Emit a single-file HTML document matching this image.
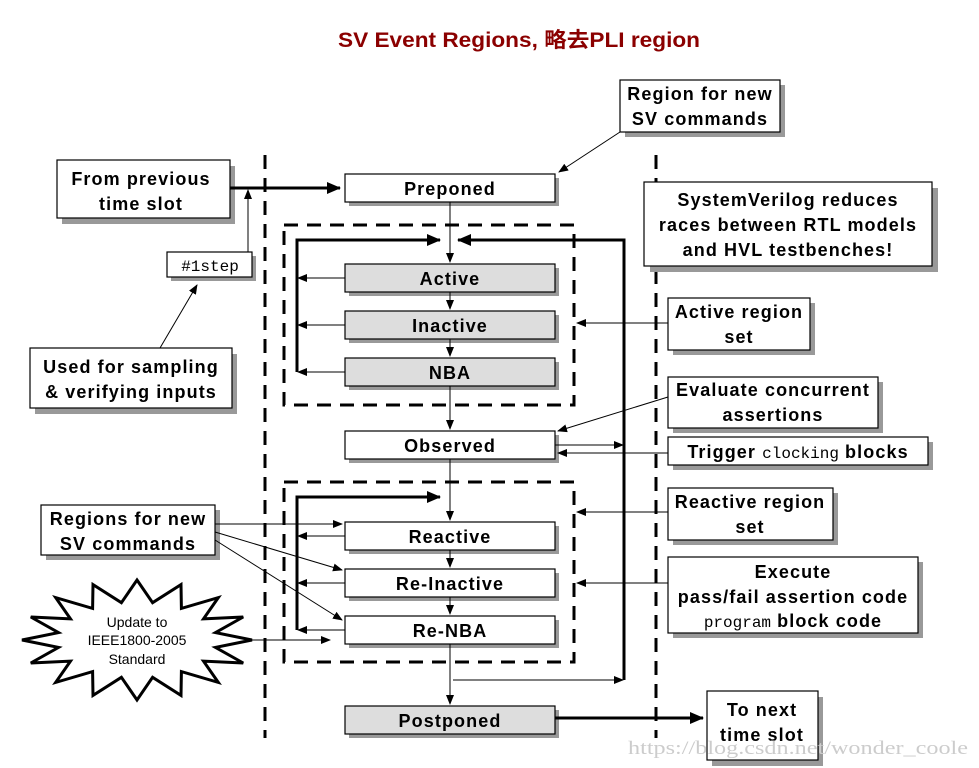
<!DOCTYPE html>
<html><head><meta charset="utf-8"><style>
body{margin:0;background:#fff}
svg{display:block}
text{font-family:"Liberation Sans","Noto Sans CJK SC",sans-serif;font-weight:bold;font-size:18px;letter-spacing:1.1px;fill:#000}
.m{font-family:"Liberation Mono",monospace;font-weight:normal;letter-spacing:0}
</style></head><body>
<svg width="979" height="768" viewBox="0 0 979 768" xmlns="http://www.w3.org/2000/svg">
<defs>
<marker id="a" markerWidth="10" markerHeight="8" refX="9" refY="4" orient="auto" markerUnits="userSpaceOnUse"><path d="M0,0 L10,4 L0,8 z" fill="#000"/></marker>
<marker id="b" markerWidth="14" markerHeight="12" refX="13" refY="6" orient="auto" markerUnits="userSpaceOnUse"><path d="M0,0 L14,6 L0,12 z" fill="#000"/></marker>
</defs>
<text x="338" y="47" textLength="362" lengthAdjust="spacingAndGlyphs" style="fill:#8b0000;font-size:21px;letter-spacing:0">SV Event Regions, 略去PLI region</text>

<g stroke="#000" stroke-width="3" stroke-dasharray="14,9" fill="none">
<line x1="265" y1="155" x2="265" y2="738"/>
<line x1="656" y1="155" x2="656" y2="738"/>
<rect x="284" y="225" width="290" height="180"/>
<rect x="284" y="482" width="290" height="180"/>
</g>

<g stroke="#000" stroke-width="1.2">
<g fill="#999" stroke="none">
<rect x="349" y="178" width="210" height="28"/><rect x="349" y="268" width="210" height="28"/><rect x="349" y="315" width="210" height="28"/><rect x="349" y="362" width="210" height="28"/><rect x="349" y="435" width="210" height="28"/><rect x="349" y="526" width="210" height="28"/><rect x="349" y="573" width="210" height="28"/><rect x="349" y="620" width="210" height="28"/><rect x="349" y="710" width="210" height="28"/>
<rect x="62" y="166" width="173" height="58"/><rect x="171" y="256" width="85" height="25"/><rect x="35" y="354" width="202" height="60"/>
<rect x="625" y="85" width="160" height="52"/><rect x="650" y="188" width="288" height="84"/><rect x="673" y="303" width="142" height="52"/><rect x="673" y="382" width="210" height="51"/><rect x="673" y="442" width="260" height="28"/><rect x="673" y="493" width="165" height="52"/><rect x="673" y="562" width="250" height="76"/><rect x="46" y="510" width="174" height="50"/><rect x="712" y="697" width="111" height="69"/>
</g>
<rect x="345" y="174" width="210" height="28" fill="#fff"/>
<rect x="345" y="264" width="210" height="28" fill="#ddd"/>
<rect x="345" y="311" width="210" height="28" fill="#ddd"/>
<rect x="345" y="358" width="210" height="28" fill="#ddd"/>
<rect x="345" y="431" width="210" height="28" fill="#fff"/>
<rect x="345" y="522" width="210" height="28" fill="#fff"/>
<rect x="345" y="569" width="210" height="28" fill="#fff"/>
<rect x="345" y="616" width="210" height="28" fill="#fff"/>
<rect x="345" y="706" width="210" height="28" fill="#ddd"/>
<rect x="57" y="160" width="173" height="58" fill="#fff"/>
<rect x="167" y="252" width="85" height="25" fill="#fff"/>
<rect x="30" y="348" width="202" height="60" fill="#fff"/>
<rect x="620" y="80" width="160" height="52" fill="#fff"/>
<rect x="644" y="182" width="288" height="84" fill="#fff"/>
<rect x="668" y="298" width="142" height="52" fill="#fff"/>
<rect x="668" y="377" width="210" height="51" fill="#fff"/>
<rect x="668" y="437" width="260" height="28" fill="#fff"/>
<rect x="668" y="488" width="165" height="52" fill="#fff"/>
<rect x="668" y="557" width="250" height="76" fill="#fff"/>
<rect x="41" y="505" width="174" height="50" fill="#fff"/>
<rect x="707" y="691" width="111" height="69" fill="#fff"/>
</g>

<g stroke="#000" stroke-width="1" fill="none" marker-end="url(#a)">
<line x1="450" y1="202" x2="450" y2="262"/>
<line x1="450" y1="292" x2="450" y2="309"/>
<line x1="450" y1="339" x2="450" y2="356"/>
<line x1="450" y1="386" x2="450" y2="429"/>
<line x1="450" y1="459" x2="450" y2="520"/>
<line x1="450" y1="550" x2="450" y2="567"/>
<line x1="450" y1="597" x2="450" y2="614"/>
<line x1="450" y1="644" x2="450" y2="704"/>
<line x1="345" y1="278" x2="298" y2="278"/>
<line x1="345" y1="325" x2="298" y2="325"/>
<line x1="345" y1="372" x2="298" y2="372"/>
<line x1="345" y1="536" x2="298" y2="536"/>
<line x1="345" y1="583" x2="298" y2="583"/>
<line x1="345" y1="630" x2="298" y2="630"/>
<line x1="248" y1="252" x2="248" y2="190"/>
<line x1="160" y1="348" x2="197" y2="285"/>
<line x1="620" y1="132" x2="559" y2="172"/>
<line x1="668" y1="323" x2="577" y2="323"/>
<line x1="668" y1="397" x2="558" y2="431"/>
<line x1="555" y1="445" x2="623" y2="445"/>
<line x1="668" y1="453" x2="558" y2="453"/>
<line x1="668" y1="512" x2="577" y2="512"/>
<line x1="668" y1="583" x2="577" y2="583"/>
<line x1="215" y1="524" x2="342" y2="524"/>
<line x1="215" y1="532" x2="342" y2="570"/>
<line x1="215" y1="540" x2="342" y2="620"/>
<line x1="132" y1="640" x2="330" y2="640"/>
<line x1="453" y1="680" x2="623" y2="680"/>
</g>
<g stroke="#000" stroke-width="3" fill="none">
<line x1="230" y1="188" x2="340" y2="188" marker-end="url(#b)"/>
<polyline points="297,372 297,240 440,240" marker-end="url(#b)"/>
<polyline points="624,680 624,240 458,240" marker-end="url(#b)"/>
<polyline points="297,630 297,497 440,497" marker-end="url(#b)"/>
<line x1="555" y1="718" x2="703" y2="718" marker-end="url(#b)"/>
</g>

<polygon id="star" fill="#fff" stroke="#000" stroke-width="3" points=""/>
<script>
(function(){var p=[],n=16,cx=137,cy=640;for(var i=0;i<2*n;i++){var a=Math.PI*i/n-Math.PI/2;var o=i%2==0;var rx=o?115:80,ry=o?60:38;p.push((cx+rx*Math.cos(a)).toFixed(1)+','+(cy+ry*Math.sin(a)).toFixed(1));}document.getElementById('star').setAttribute('points',p.join(' '));})();
</script>
<text x="137" y="627" text-anchor="middle" style="font-weight:normal;font-size:14px;letter-spacing:0">Update to</text>
<text x="137" y="645" text-anchor="middle" style="font-weight:normal;font-size:14px;letter-spacing:0">IEEE1800-2005</text>
<text x="137" y="664" text-anchor="middle" style="font-weight:normal;font-size:14px;letter-spacing:0">Standard</text>

<g text-anchor="middle">
<text x="450" y="195">Preponed</text>
<text x="450" y="285">Active</text>
<text x="450" y="332">Inactive</text>
<text x="450" y="379">NBA</text>
<text x="450" y="452">Observed</text>
<text x="450" y="543">Reactive</text>
<text x="450" y="590">Re-Inactive</text>
<text x="450" y="637">Re-NBA</text>
<text x="450" y="727">Postponed</text>
<text x="141" y="185">From previous</text>
<text x="141" y="210">time slot</text>
<text x="210" y="271" class="m" style="font-size:16px">#1step</text>
<text x="131" y="373">Used for sampling</text>
<text x="131" y="398">&amp; verifying inputs</text>
<text x="700" y="100">Region for new</text>
<text x="700" y="125">SV commands</text>
<text x="788" y="206">SystemVerilog reduces</text>
<text x="788" y="231">races between RTL models</text>
<text x="788" y="256">and HVL testbenches!</text>
<text x="739" y="318">Active region</text>
<text x="739" y="343">set</text>
<text x="773" y="396">Evaluate concurrent</text>
<text x="773" y="421">assertions</text>
<text x="798" y="458">Trigger <tspan class="m" style="font-size:16px">clocking</tspan> blocks</text>
<text x="750" y="508">Reactive region</text>
<text x="750" y="533">set</text>
<text x="793" y="578">Execute</text>
<text x="793" y="603">pass/fail assertion code</text>
<text x="793" y="627"><tspan class="m" style="font-size:16px">program</tspan> block code</text>
<text x="128" y="525">Regions for new</text>
<text x="128" y="550">SV commands</text>
<text x="762" y="716">To next</text>
<text x="762" y="741">time slot</text>
</g>
<text x="628" y="754" textLength="340" lengthAdjust="spacingAndGlyphs" style="font-family:'Liberation Serif',serif;font-weight:normal;font-size:19px;letter-spacing:0;fill:#ccc">https://blog.csdn.net/wonder_coole</text>
</svg>
</body></html>
